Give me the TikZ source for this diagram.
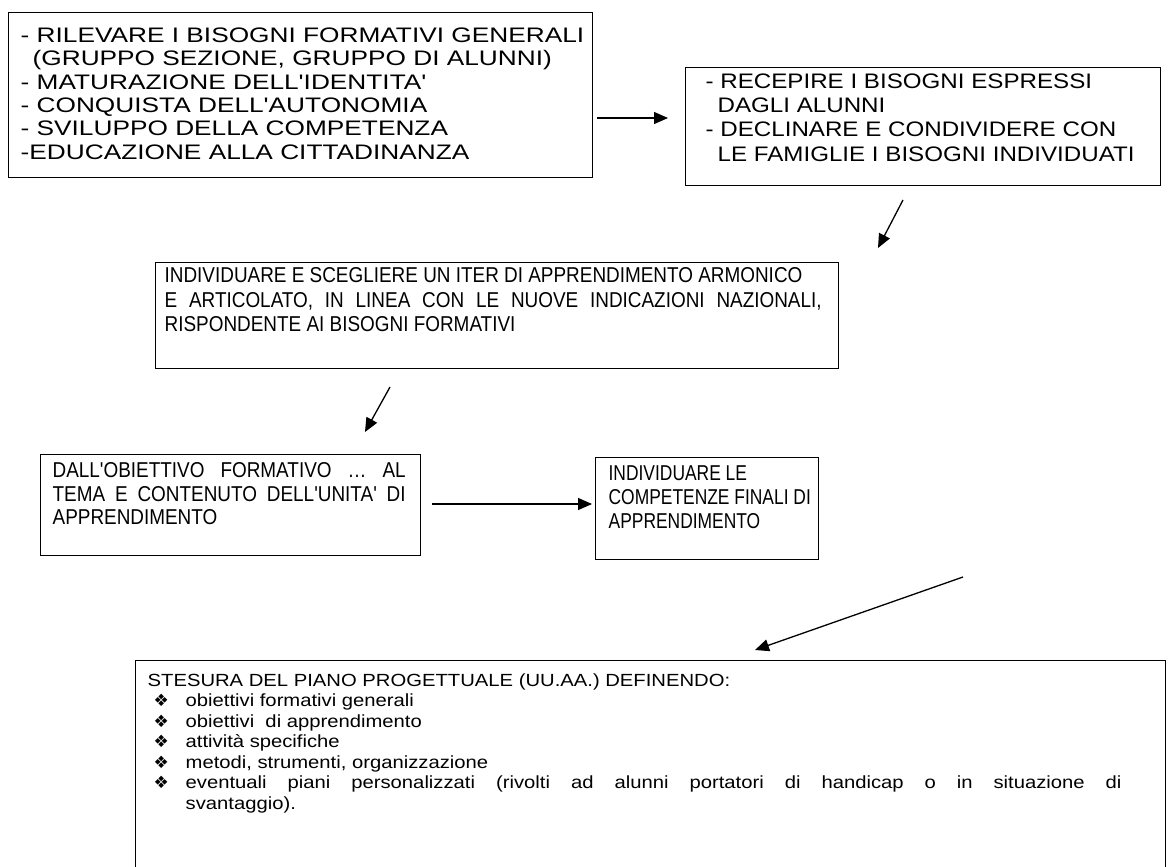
\documentclass[tikz,border=0pt]{standalone}
\usepackage{fontspec}
\setmainfont{Liberation Sans}[Ligatures=TeXOff]
\newfontfamily\widefont{Liberation Sans}[Ligatures=TeXOff,FakeStretch=1.25]
\newfontfamily\wideBfont{Liberation Sans}[Ligatures=TeXOff,FakeStretch=1.15]
\newfontfamily\narrowfont{Liberation Sans}[Ligatures=TeXOff,FakeStretch=0.88]
\newfontfamily\narrowBfont{Liberation Sans}[Ligatures=TeXOff,FakeStretch=0.81]
\newfontfamily\bodyfont{Liberation Sans}[Ligatures=TeXOff,FakeStretch=1.15]
\newfontfamily\symfont{DejaVu Sans}
\usetikzlibrary{arrows.meta}
% width, height, left pad, right pad, top pad, content
\newcommand{\boxtext}[6]{\parbox[c][#2][t]{#1}{\vspace*{#5}\hspace*{#3}\begin{minipage}[t]{\dimexpr#1-#3-#4\relax}#6\end{minipage}}}
\newcommand{\itm}{\makebox[38pt][l]{\hspace*{6pt}{\symfont\fontsize{17}{17}\selectfont ❖}}}
\begin{document}
\begin{tikzpicture}[x=1pt,y=-1pt,
  box/.style={draw,line width=1.3pt,inner sep=0pt,anchor=north west},
  arr/.style={line width=1.3pt,-{Triangle[length=14pt,width=12pt]}}]
\useasboundingbox (0,0) rectangle (1170,867);
\clip (0,0) rectangle (1170,867);
\fill[white] (0,0) rectangle (1170,867);

\node[box] (b1) at (8,12) {\boxtext{584pt}{165pt}{12pt}{0pt}{15pt}{\widefont\fontsize{21}{23.4}\selectfont
\mbox{- RILEVARE I BISOGNI FORMATIVI GENERALI}\\
\mbox{\hspace*{12pt}(GRUPPO SEZIONE, GRUPPO DI ALUNNI)}\\
\mbox{- MATURAZIONE DELL'IDENTITA'}\\
\mbox{- CONQUISTA DELL'AUTONOMIA}\\
\mbox{- SVILUPPO DELLA COMPETENZA}\\
\mbox{-EDUCAZIONE ALLA CITTADINANZA}}};

\node[box] (b2) at (685,67) {\boxtext{475pt}{118pt}{20pt}{0pt}{6pt}{\wideBfont\fontsize{21}{24.3}\selectfont
\mbox{- RECEPIRE I BISOGNI ESPRESSI}\\
\mbox{\hspace*{12pt}DAGLI ALUNNI}\\
\mbox{- DECLINARE E CONDIVIDERE CON}\\
\mbox{\hspace*{12pt}LE FAMIGLIE I BISOGNI INDIVIDUATI}}};

\node[box] (b3) at (155,262) {\boxtext{683pt}{106pt}{9pt}{17pt}{5pt}{\narrowfont\fontsize{21.5}{24.5}\selectfont
\mbox{INDIVIDUARE E SCEGLIERE UN ITER DI APPRENDIMENTO ARMONICO}\\
\makebox[\linewidth][s]{E ARTICOLATO, IN LINEA CON LE NUOVE INDICAZIONI NAZIONALI,}\\
\mbox{RISPONDENTE AI BISOGNI FORMATIVI}}};

\node[box] (b4) at (40,454) {\boxtext{380pt}{101pt}{12pt}{15pt}{8pt}{\narrowfont\fontsize{21.5}{23.5}\selectfont
\makebox[\linewidth][s]{DALL'OBIETTIVO FORMATIVO … AL}\\
\makebox[\linewidth][s]{TEMA E CONTENUTO DELL'UNITA' DI}\\
\mbox{APPRENDIMENTO}}};

\node[box] (b5) at (595,457) {\boxtext{223pt}{102pt}{13pt}{0pt}{8pt}{\narrowBfont\fontsize{21.5}{24}\selectfont
\mbox{INDIVIDUARE LE}\\
\mbox{COMPETENZE FINALI DI}\\
\mbox{APPRENDIMENTO}}};

\node[box] (b6) at (135,660) {\boxtext{1030pt}{230pt}{12pt}{44pt}{13pt}{\bodyfont\fontsize{17.6}{20.5}\selectfont
\mbox{STESURA DEL PIANO PROGETTUALE (UU.AA.) DEFINENDO:}\\
\itm obiettivi formativi generali\\
\itm obiettivi\ \ di apprendimento\\
\itm attività specifiche\\
\itm metodi, strumenti, organizzazione\\
\itm \makebox[\dimexpr\linewidth-38pt\relax][s]{eventuali piani personalizzati (rivolti ad alunni portatori di handicap o in situazione di}\\
\hspace*{38pt}svantaggio).}};

\coordinate (a1s) at (597,118); \coordinate (a1e) at (668,118);
\coordinate (a2s) at (903,200); \coordinate (a2e) at (878,248);
\coordinate (a3s) at (390,387); \coordinate (a3e) at (365,432);
\coordinate (a4s) at (432,504); \coordinate (a4e) at (592,504);
\coordinate (a5s) at (963,577); \coordinate (a5e) at (755,650);
\draw[arr] (a1s) -- (a1e);
\draw[arr] (a2s) -- (a2e);
\draw[arr] (a3s) -- (a3e);
\draw[arr] (a4s) -- (a4e);
\draw[arr] (a5s) -- (a5e);
\end{tikzpicture}
\end{document}
